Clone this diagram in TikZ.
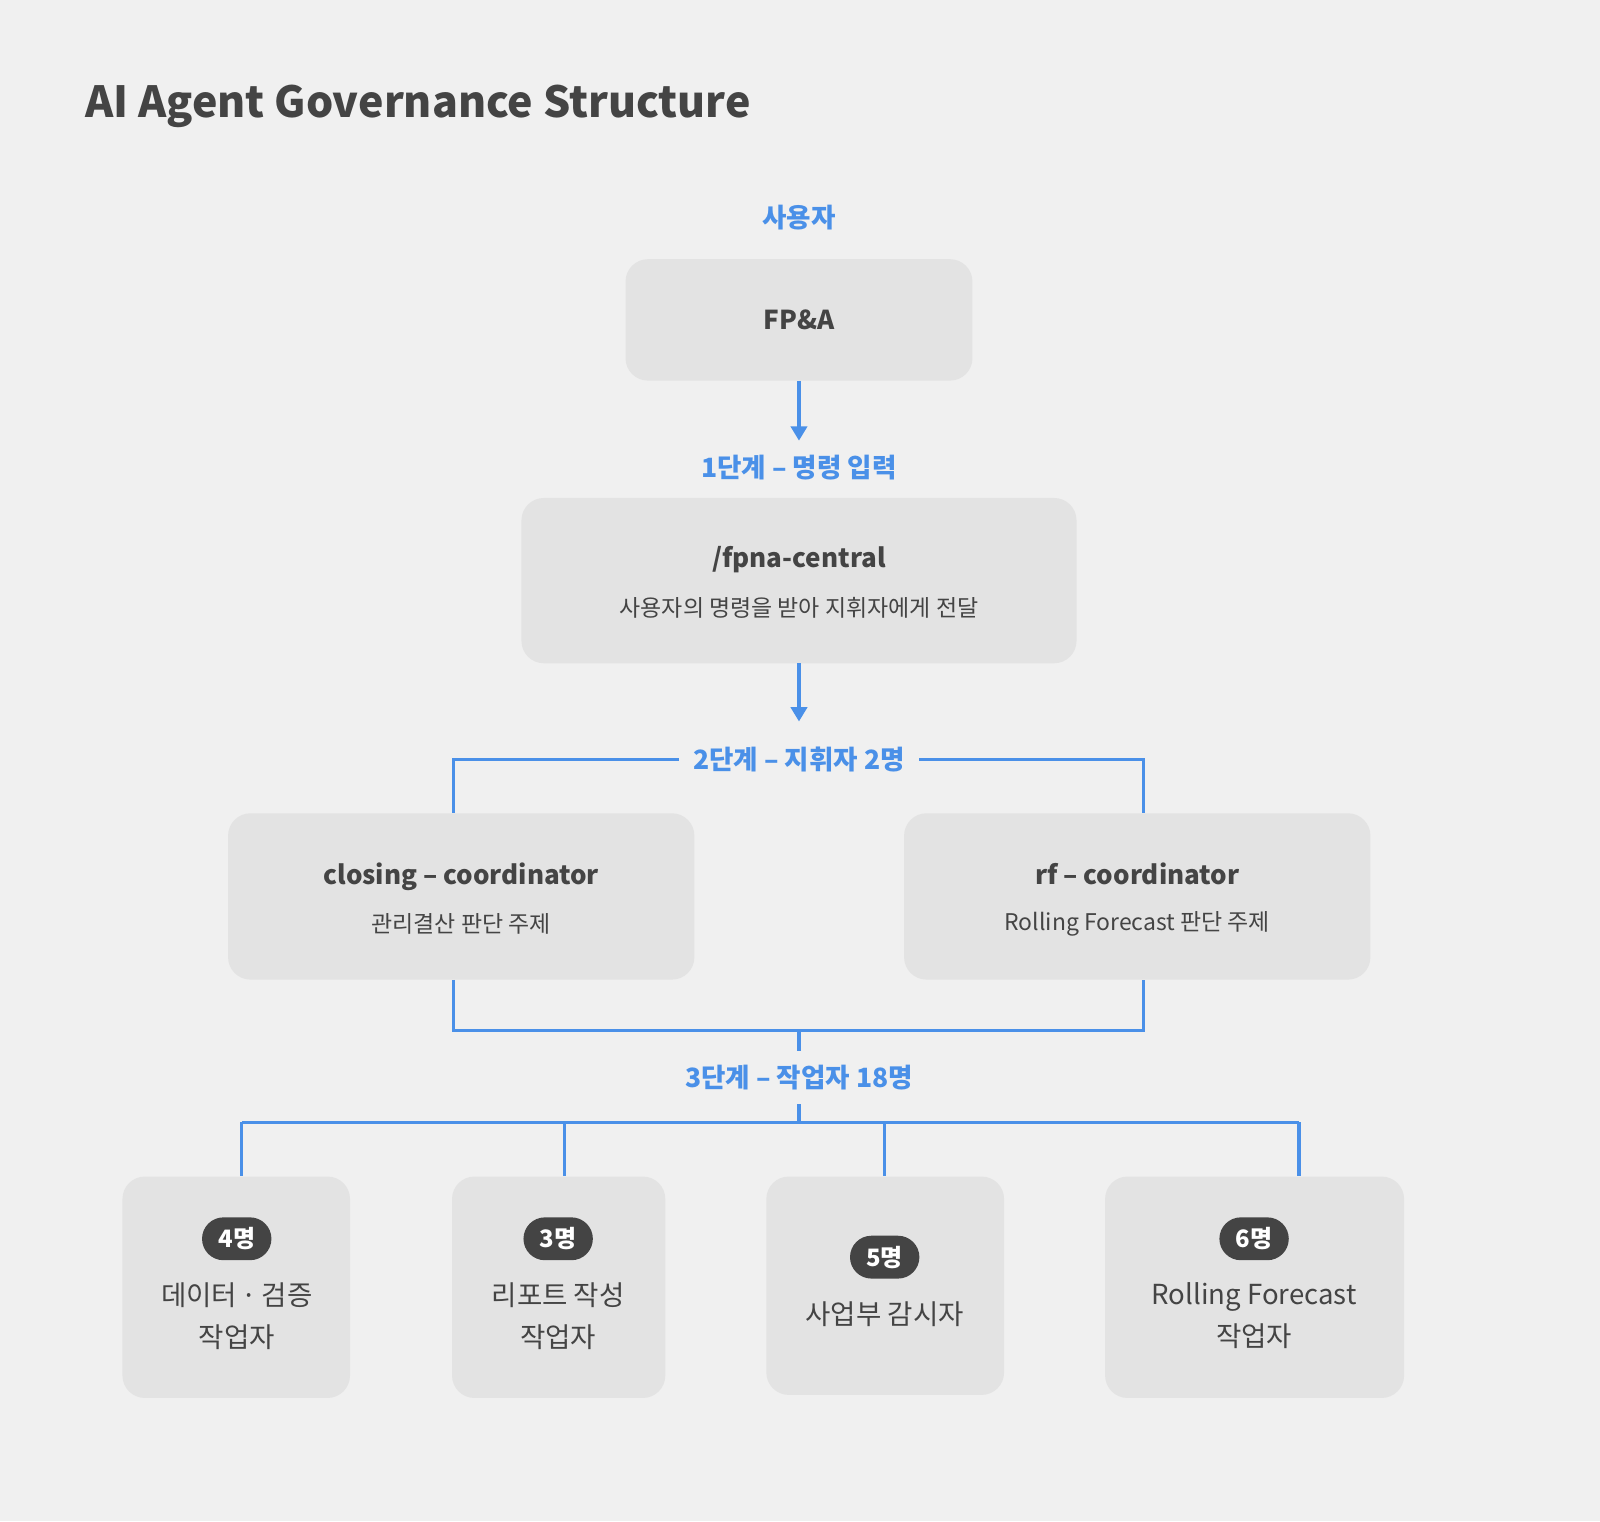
\documentclass[tikz,border=0pt]{standalone}
\usepackage{fontspec}
\setmainfont{Noto Sans CJK KR}
\usetikzlibrary{arrows.meta}
\definecolor{bgc}{HTML}{F0F0F0}
\definecolor{boxc}{HTML}{E3E3E3}
\definecolor{ink}{HTML}{444444}
\definecolor{accent}{HTML}{4A90E8}
\begin{document}
\begin{tikzpicture}[x=1pt,y=-1pt,
    card/.style={fill=boxc,rounded corners=22pt,inner sep=0pt},
    link/.style={draw=accent,line width=3pt},
    flow/.style={link,-{Triangle[width=16pt,length=14pt]}},
    stage/.style={text=accent,inner xsep=14pt,inner ysep=0pt,minimum height=52pt,
        font=\fontsize{26}{30}\selectfont\bfseries},
    head/.style={text=ink,text height=19pt,text depth=0pt,font=\fontsize{25.5}{30}\selectfont\bfseries},
    note/.style={text=ink,font=\fontsize{22.5}{26}\selectfont},
    job/.style={text=ink,align=center,font=\fontsize{27}{41}\selectfont},
    badge/.style={fill=ink,text=white,rounded corners=21pt,minimum width=68pt,
        minimum height=42pt,inner sep=0pt,font=\fontsize{23.5}{26}\selectfont\bfseries}]
\fill[bgc] (0,0) rectangle (1568,1490.6);
\node[anchor=base west,text=ink,font=\fontsize{42}{50}\selectfont\bfseries] (title) at (80,115) {AI Agent Governance Structure};

% user and central
\node[stage] (user) at (783,213) {사용자};
\node[card,minimum width=340pt,minimum height=119pt] (fpa) at (783,313.5) {};
\node[head] (fpaname) at (783,313.5) {FP\&A};
\node[stage] (s1) at (783,458) {1단계 – 명령 입력};
\node[card,minimum width=544pt,minimum height=162pt] (central) at (783,569) {};
\node[head] (centralname) at (783,547) {/fpna-central};
\node[note] (centralnote) at (783,596) {사용자의 명령을 받아 지휘자에게 전달};
\draw[flow] (fpa) -- (s1);
\coordinate (s2in) at (783,707);
\draw[flow] (central) -- (s2in);

% coordinators
\node[stage] (s2) at (783,744) {2단계 – 지휘자 2명};
\foreach \n/\x/\t/\d in {closing/452/closing – coordinator/관리결산 판단 주제,
                        rf/1114.5/rf – coordinator/Rolling Forecast 판단 주제} {
    \node[card,minimum width=457pt,minimum height=163pt] (\n) at (\x,878.5) {};
    \node[head] (\n name) at (\x,857) {\t};
    \node[note] (\n note) at (\x,905) {\d};
}
\draw[link] (s2.west) -| ([xshift=-8pt]closing.north);
\draw[link] (s2.east) -| ([xshift=6.5pt]rf.north);
\coordinate (merge) at (783,1010);
\draw[link] ([xshift=-8pt]closing.south) |- (merge) -| ([xshift=6.5pt]rf.south);

% workers
\node[stage] (s3) at (783,1056) {3단계 – 작업자 18명};
\coordinate (bus) at (783,1100);
\draw[link] (merge) -- (s3) -- (bus);
\foreach \n/\x/\y/\w/\h in {w1/231.5/1261.5/223/217, w2/547.5/1261.5/209/217,
                           w3/867.5/1260/233/214, w4/1229.5/1261.5/293/217}
    \node[card,minimum width=\w pt,minimum height=\h pt] (\n) at (\x,\y) {};
\foreach \i/\x in {1/237,2/553,3/867,4/1273}
    \coordinate (d\i) at (\x,1100);
\draw[link] (d1) -- (d4);
\foreach \i in {1,...,4}
    \draw[link] (d\i) -- (d\i |- w\i.north);
\foreach \n/\x/\y/\t in {b1/232/1214/4명, b2/547/1214/3명, b3/867/1232/5명, b4/1229/1214/6명}
    \node[badge] (\n) at (\x,\y) {\t};
\foreach \n/\x/\y/\t in {t1/232/1289.5/{데이터\,·\,검증\\작업자}, t2/547/1289.5/{리포트 작성\\작업자},
                        t3/867/1288/{사업부 감시자}, t4/1229/1289.5/{Rolling Forecast\\작업자}}
    \node[job] (\n) at (\x,\y) {\t};
\end{tikzpicture}
\end{document}
